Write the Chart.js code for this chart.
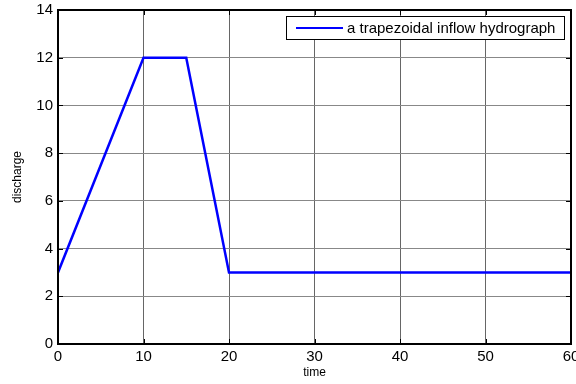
<!DOCTYPE html>
<html>
<head>
<meta charset="utf-8">
<script src="https://cdn.jsdelivr.net/npm/chart.js@4"></script>
<style>
  html, body { margin: 0; padding: 0; background: #fff; }
  #wrap { width: 576px; height: 384px; }
</style>
</head>
<body>
<div id="wrap"><canvas id="myChart" width="576" height="384"></canvas></div>
<script>
// trapezoidal inflow hydrograph: time vs discharge
let time = [0, 10, 15, 20, 60];
let discharge = [3, 12, 12, 3, 3];
let xTicks = [0, 10, 20, 30, 40, 50, 60];
let yTicks = [0, 2, 4, 6, 8, 10, 12, 14];
let seriesName = 'a trapezoidal inflow hydrograph';

let points = time.map((t, i) => ({x: t, y: discharge[i]}));
let font = 'Liberation Sans, Arial, Helvetica, sans-serif';

// box around the axes, small inward ticks, and the legend box in the corner
let boxPlugin = {
    id: 'box',
    afterDatasetsDraw(chart) {
        let ctx = chart.ctx;
        let a = chart.chartArea;
        let xs = chart.scales.x, ys = chart.scales.y;
        ctx.save();
        ctx.strokeStyle = '#000';
        ctx.lineWidth = 1;
        ctx.beginPath();
        xTicks.forEach(v => {
            let px = Math.round(xs.getPixelForValue(v)) + 0.5;
            ctx.moveTo(px, a.bottom); ctx.lineTo(px, a.bottom - 5);
            ctx.moveTo(px, a.top); ctx.lineTo(px, a.top + 5);
        });
        yTicks.forEach(v => {
            let py = Math.round(ys.getPixelForValue(v)) + 0.5;
            ctx.moveTo(a.left, py); ctx.lineTo(a.left + 5, py);
            ctx.moveTo(a.right, py); ctx.lineTo(a.right - 5, py);
        });
        ctx.stroke();
        ctx.lineWidth = 2;
        ctx.strokeRect(a.left, a.top, a.right - a.left, a.bottom - a.top);

        // legend
        let lx = 286, ly = 16, lw = 278, lh = 23;
        ctx.fillStyle = '#fff';
        ctx.fillRect(lx, ly, lw, lh);
        ctx.lineWidth = 1;
        ctx.strokeRect(lx + 0.5, ly + 0.5, lw, lh);
        ctx.strokeStyle = '#0000ff';
        ctx.lineWidth = 2;
        ctx.beginPath();
        ctx.moveTo(296, ly + 12); ctx.lineTo(343, ly + 12);
        ctx.stroke();
        ctx.fillStyle = '#000';
        ctx.font = '15px ' + font;
        ctx.textBaseline = 'middle';
        ctx.fillText(seriesName, 347, ly + 12.5);
        ctx.restore();
    }
};

let chart = new Chart(document.getElementById('myChart'), {
    type: 'line',
    data: {
        datasets: [{
            label: seriesName,
            data: points,
            borderColor: '#0000ff',
            borderWidth: 2.5,
            pointRadius: 0,
            fill: false,
            tension: 0
        }]
    },
    options: {
        responsive: false,
        animation: false,
        layout: {padding: {top: 10, right: 5, left: 0, bottom: 0}},
        plugins: {legend: {display: false}, tooltip: {enabled: false}},
        scales: {
            x: {
                type: 'linear',
                min: 0, max: 60,
                afterBuildTicks: s => { s.ticks = xTicks.map(v => ({value: v})); },
                afterFit: s => { s.height = 40; s.paddingLeft = 0; s.paddingRight = 0; },
                grid: {color: '#666', lineWidth: 1, drawTicks: false},
                border: {display: false},
                ticks: {color: '#000', padding: 4, maxRotation: 0, font: {family: font, size: 15}},
                title: {display: true, text: 'time', color: '#000', padding: {top: 0, bottom: 4}, font: {family: font, size: 12}}
            },
            y: {
                min: 0, max: 14,
                afterBuildTicks: s => { s.ticks = yTicks.map(v => ({value: v})); },
                afterFit: s => { s.width = 58; s.paddingTop = 0; s.paddingBottom = 0; },
                grid: {color: '#888', lineWidth: 1, drawTicks: false},
                border: {display: false},
                ticks: {color: '#000', padding: 5, font: {family: font, size: 15}},
                title: {display: true, text: 'discharge', color: '#000', padding: {top: 10, bottom: 0}, font: {family: font, size: 12}}
            }
        }
    },
    plugins: [boxPlugin]
});
</script>
</body>
</html>
